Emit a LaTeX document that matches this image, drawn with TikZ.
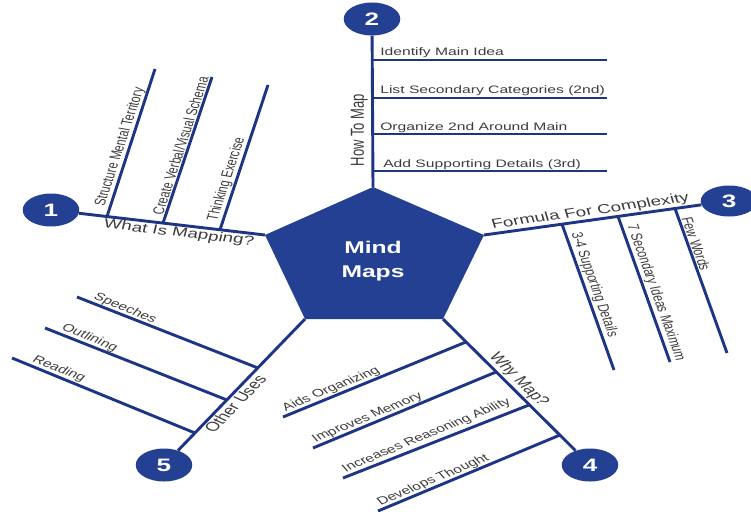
\documentclass[tikz,border=0pt]{standalone}
\usepackage{fontspec}
\setmainfont{Liberation Sans}
\usetikzlibrary{calc,shapes.geometric}
\definecolor{mmblue}{RGB}{36,64,146}
\definecolor{mmline}{RGB}{30,52,132}
\definecolor{mmtext}{RGB}{60,60,60}
\begin{document}
\begin{tikzpicture}[x=1pt,y=-1pt,
  conn/.style={draw=mmline, line width=2.9pt},
  numcirc/.style={ellipse, fill=mmblue, minimum width=39pt, minimum height=33pt, inner sep=0pt,
    text=white, font=\fontsize{18}{18}\selectfont\bfseries, xscale=1.45},
  sublbl/.style={font=\fontsize{10.8}{12}\selectfont, text=mmtext, inner sep=1.5pt, xscale=1.45},
  brlbl/.style={font=\fontsize{13}{15}\selectfont, text=mmtext, inner sep=2pt, xscale=1.45},
]
\useasboundingbox (0,0) rectangle (751,511);

% central pentagon
\coordinate (P1) at (373,187);
\coordinate (P2) at (484,235);
\coordinate (P3) at (443,319);
\coordinate (P4) at (305,319);
\coordinate (P5) at (265,235);
\fill[mmblue] (P1) -- (P2) -- (P3) -- (P4) -- (P5) -- cycle;
\node[text=white, font=\fontsize{17}{24}\selectfont\bfseries, align=center, xscale=1.45, inner sep=0pt] (mm) at (373,261) {Mind\\Maps};

% number circles
\node[numcirc] (c1) at (51,210) {1};
\node[numcirc] (c2) at (372,19) {2};
\node[numcirc, minimum height=31pt] (c3) at (729,201) {3};
\node[numcirc] (c4) at (590,465) {4};
\node[numcirc] (c5) at (164,465) {5};

% ---------- branch 1 ----------
\coordinate (J1a) at (107,216.5);
\coordinate (J1b) at (163,223.1);
\coordinate (J1c) at (220,229.7);
\coordinate (E1a) at (155,69);
\coordinate (E1b) at (212,77);
\coordinate (E1c) at (268,85);
\draw[conn] (c1) -- (P5);
\draw[conn] (J1a) -- (E1a);
\draw[conn] (J1b) -- (E1b);
\draw[conn] (J1c) -- (E1c);
\node[sublbl, rotate=77, anchor=south west] (l1a) at ($(J1a)!0.05!(E1a)$) {Structure Mental Territory};
\node[sublbl, rotate=77, anchor=south west] (l1b) at ($(J1b)!0.04!(E1b)$) {Create Verbal/Visual Schema};
\node[sublbl, rotate=77, anchor=south west] (l1c) at ($(J1c)!0.04!(E1c)$) {Thinking Exercise};
\node[brlbl, rotate=-9.6, anchor=north] (b1) at ($(P5)!0.393!(c1)$) {What Is Mapping?};

% ---------- branch 2 ----------
\coordinate (J2a) at (373,60);
\coordinate (J2b) at (373,98);
\coordinate (J2c) at (373,134);
\coordinate (J2d) at (373,171);
\coordinate (E2a) at (607,60);
\coordinate (E2b) at (607,98);
\coordinate (E2c) at (607,134);
\coordinate (E2d) at (607,171);
\draw[conn] (c2) -- (P1);
\draw[conn] (J2a) -- (E2a);
\draw[conn] (J2b) -- (E2b);
\draw[conn] (J2c) -- (E2c);
\draw[conn] (J2d) -- (E2d);
\node[sublbl, anchor=base west, inner sep=0pt] (l2a) at (380,56) {Identify Main Idea};
\node[sublbl, anchor=base west, inner sep=0pt] (l2b) at (380,93) {List Secondary Categories (2nd)};
\node[sublbl, anchor=base west, inner sep=0pt] (l2c) at (380,130) {Organize 2nd Around Main};
\node[sublbl, anchor=base west, inner sep=0pt] (l2d) at (383,167) {Add Supporting Details (3rd)};
\node[brlbl, rotate=90, anchor=south] (b2) at (371,130) {How To Map};

% ---------- branch 3 ----------
\coordinate (J3a) at (562,224.2);
\coordinate (J3b) at (618,216.4);
\coordinate (J3c) at (675,208.5);
\coordinate (E3a) at (614,370);
\coordinate (E3b) at (670,362);
\coordinate (E3c) at (727,353);
\draw[conn] (P2) -- (c3);
\draw[conn] (J3a) -- (E3a);
\draw[conn] (J3b) -- (E3b);
\draw[conn] (J3c) -- (E3c);
\node[sublbl, rotate=-76, anchor=south west] (l3a) at ($(J3a)!0.06!(E3a)$) {3-4 Supporting Details};
\node[sublbl, rotate=-76, anchor=south west] (l3b) at ($(J3b)!0.06!(E3b)$) {7 Secondary Ideas Maximum};
\node[sublbl, rotate=-76, anchor=south west] (l3c) at ($(J3c)!0.06!(E3c)$) {Few Words};
\node[brlbl, rotate=11.4, anchor=south] (b3) at ($(P2)!0.444!(c3)$) {Formula For Complexity};

% ---------- branch 4 ----------
\coordinate (J4a) at (466,342);
\coordinate (J4b) at (496,372);
\coordinate (J4c) at (529,405);
\coordinate (J4d) at (560,435);
\coordinate (E4a) at (283,417);
\coordinate (E4b) at (313,448);
\coordinate (E4c) at (343,478);
\coordinate (E4d) at (378,511);
\draw[conn] (P3) -- (c4);
\draw[conn] (J4a) -- (E4a);
\draw[conn] (J4b) -- (E4b);
\draw[conn] (J4c) -- (E4c);
\draw[conn] (J4d) -- (E4d);
\node[sublbl, rotate=31, anchor=south west] (l4a) at ($(E4a)!0.02!(J4a)$) {Aids Organizing};
\node[sublbl, rotate=31, anchor=south west] (l4b) at ($(E4b)!0.02!(J4b)$) {Improves Memory};
\node[sublbl, rotate=31, anchor=south west] (l4c) at ($(E4c)!0.02!(J4c)$) {Increases Reasoning Ability};
\node[sublbl, rotate=31, anchor=south west] (l4d) at ($(E4d)!0.02!(J4d)$) {Develops Thought};
\node[brlbl, rotate=-55, anchor=south] (b4) at ($(P3)!0.447!(c4)$) {Why Map?};

% ---------- branch 5 ----------
\coordinate (J5a) at (258,368);
\coordinate (J5b) at (227,400);
\coordinate (J5c) at (195,433);
\coordinate (E5a) at (77,297);
\coordinate (E5b) at (45,328);
\coordinate (E5c) at (12,358);
\draw[conn] (P4) -- (c5);
\draw[conn] (J5a) -- (E5a);
\draw[conn] (J5b) -- (E5b);
\draw[conn] (J5c) -- (E5c);
\node[sublbl, rotate=-30, anchor=south west] (l5a) at ($(E5a)!0.06!(J5a)$) {Speeches};
\node[sublbl, rotate=-30, anchor=south west] (l5b) at ($(E5b)!0.06!(J5b)$) {Outlining};
\node[sublbl, rotate=-30, anchor=south west] (l5c) at ($(E5c)!0.08!(J5c)$) {Reading};
\node[brlbl, rotate=56, anchor=north] (b5) at ($(P4)!0.555!(c5)$) {Other Uses};
\end{tikzpicture}
\end{document}
